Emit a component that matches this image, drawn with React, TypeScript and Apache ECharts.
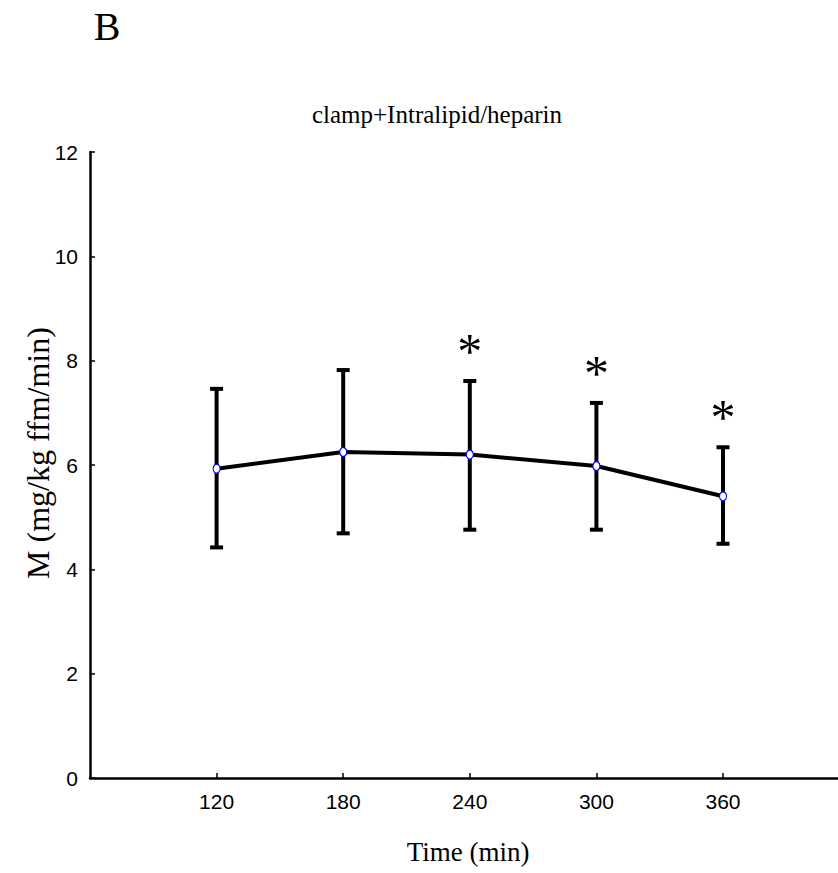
import React, { useEffect, useRef } from "react";
import * as echarts from "echarts";

const timePoints = [120, 180, 240, 300, 360];
const meanM = [5.93, 6.25, 6.2, 5.98, 5.4];
const upperM = [7.46, 7.82, 7.61, 7.19, 6.34];
const lowerM = [4.42, 4.69, 4.76, 4.76, 4.49];
const significant = [false, false, true, true, true];
const yTicks = [0, 2, 4, 6, 8, 10, 12];

const panelLabel = "B";
const chartTitle = "clamp+Intralipid/heparin";
const xName = "Time (min)";
const yName = "M (mg/kg ffm/min)";

export default function App() {
  const ref = useRef<HTMLDivElement>(null);
  useEffect(() => {
    if (!ref.current) return;
    const chart = echarts.init(ref.current, null, { renderer: "svg" });
    const errData = timePoints.map((t, i) => [t, lowerM[i], upperM[i]]);
    const starData = timePoints
      .map((t, i) => (significant[i] ? [t, upperM[i]] : null))
      .filter((d) => d !== null);
    const serif = "'Liberation Serif', 'Times New Roman', serif";
    const sans = "'Liberation Sans', Arial, sans-serif";
    chart.setOption({
      animation: false,
      backgroundColor: "#ffffff",
      grid: {
        left: 90,
        right: 0,
        top: 152,
        bottom: 95,
        containLabel: false,
        outerBoundsMode: "none",
      },
      xAxis: {
        type: "value",
        min: 60,
        max: 414.5,
        interval: 60,
        splitLine: { show: false },
        axisLine: { lineStyle: { color: "#000", width: 2.5 } },
        axisTick: {
          inside: true,
          length: 5,
          lineStyle: { color: "#000", width: 1.5 },
          customValues: timePoints,
        },
        axisLabel: {
          customValues: timePoints,
          color: "#000",
          fontSize: 21,
          fontFamily: sans,
          margin: 13,
        },
      },
      yAxis: {
        type: "value",
        min: 0,
        max: 12,
        interval: 2,
        splitLine: { show: false },
        axisLine: { show: true, lineStyle: { color: "#000", width: 2.5 } },
        axisTick: {
          show: true,
          inside: true,
          length: 5,
          lineStyle: { color: "#000", width: 1.5 },
          customValues: yTicks,
        },
        axisLabel: {
          customValues: yTicks,
          color: "#000",
          fontSize: 21,
          fontFamily: sans,
          margin: 12,
        },
      },
      graphic: [
        {
          type: "text",
          x: 107,
          y: 26,
          style: {
            text: panelLabel,
            fontSize: 40,
            fontFamily: serif,
            fill: "#000",
            align: "center",
            verticalAlign: "middle",
          },
        },
        {
          type: "text",
          x: 437,
          y: 114,
          style: {
            text: chartTitle,
            fontSize: 25,
            fontFamily: serif,
            fill: "#000",
            align: "center",
            verticalAlign: "middle",
          },
        },
        {
          type: "text",
          x: 468,
          y: 852,
          style: {
            text: xName,
            fontSize: 27,
            fontFamily: serif,
            fill: "#000",
            align: "center",
            verticalAlign: "middle",
          },
        },
        {
          type: "text",
          x: 38,
          y: 453,
          rotation: Math.PI / 2,
          style: {
            text: yName,
            fontSize: 32,
            fontFamily: serif,
            fill: "#000",
            align: "center",
            verticalAlign: "middle",
          },
        },
      ],
      series: [
        {
          type: "custom",
          z: 1,
          data: errData,
          renderItem: (params: any, api: any) => {
            const x = api.value(0);
            const pLo = api.coord([x, api.value(1)]);
            const pHi = api.coord([x, api.value(2)]);
            const hw = 6.5;
            const st = { stroke: "#000", lineWidth: 4 };
            return {
              type: "group",
              children: [
                { type: "line", shape: { x1: pLo[0], y1: pLo[1], x2: pHi[0], y2: pHi[1] }, style: st },
                { type: "line", shape: { x1: pHi[0] - hw, y1: pHi[1], x2: pHi[0] + hw, y2: pHi[1] }, style: st },
                { type: "line", shape: { x1: pLo[0] - hw, y1: pLo[1], x2: pLo[0] + hw, y2: pLo[1] }, style: st },
              ],
            };
          },
        },
        {
          type: "line",
          z: 3,
          data: timePoints.map((t, i) => [t, meanM[i]]),
          lineStyle: { color: "#000", width: 4 },
          symbol: "circle",
          symbolSize: [7, 9],
          showSymbol: true,
          itemStyle: { color: "#fff", borderColor: "#0000ff", borderWidth: 1.2 },
        },
        {
          type: "custom",
          z: 4,
          data: starData,
          renderItem: (params: any, api: any) => {
            const p = api.coord([api.value(0), api.value(1)]);
            return {
              type: "text",
              x: p[0],
              y: p[1] - 30,
              style: {
                text: "*",
                fontSize: 50,
                fontFamily: serif,
                fill: "#000",
                align: "center",
                verticalAlign: "middle",
              },
            };
          },
        },
      ],
    });
    return () => chart.dispose();
  }, []);
  return (
    <div
      ref={ref}
      style={{ position: "absolute", left: 0, top: 0, width: 838, height: 873 }}
    />
  );
}
